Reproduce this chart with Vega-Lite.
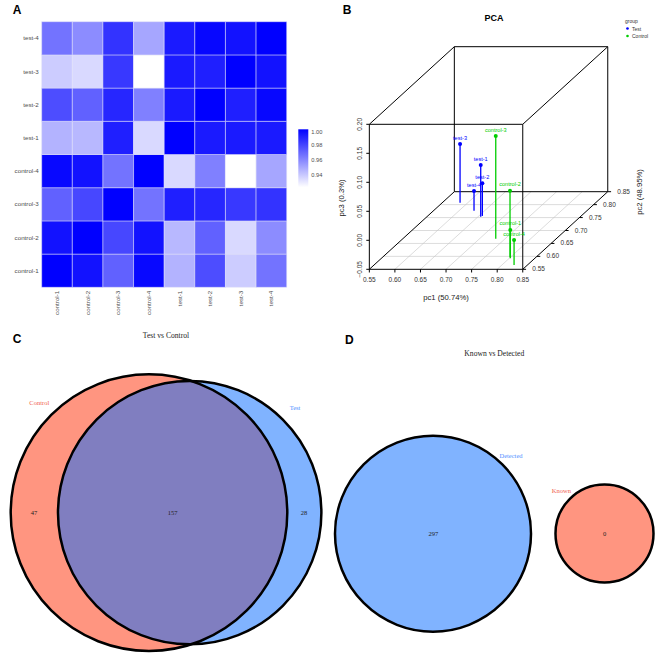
{
  "$schema": "https://vega.github.io/schema/vega-lite/v6.json",
  "padding": 0,
  "spacing": 0,
  "bounds": "full",
  "background": "white",
  "resolve": {
    "scale": {"x": "independent", "y": "independent", "color": "independent", "fill": "independent", "stroke": "independent", "size": "independent"},
    "legend": {"color": "independent", "fill": "independent", "stroke": "independent", "size": "independent"}
  },
  "config": {
    "view": {"stroke": null},
    "font": "Liberation Sans",
    "title": {"anchor": "start", "frame": "group", "fontSize": 12, "fontWeight": "bold", "font": "Liberation Sans", "baseline": "alphabetic", "color": "#000000"}
  },
  "vconcat": [
    {
      "spacing": 0,
      "bounds": "full",
      "resolve": {
        "scale": {"x": "independent", "y": "independent", "color": "independent", "fill": "independent", "stroke": "independent", "size": "independent"},
        "legend": {"color": "independent", "fill": "independent", "stroke": "independent", "size": "independent"}
      },
      "hconcat": [
        {
          "width": 330,
          "height": 320,
          "title": {"text": "A", "offset": -16.7, "dx": 12.7},
          "data": {"values": [
            {"row": "control-1", "control-1": 1.000, "control-2": 0.9947, "control-3": 0.9711, "control-4": 0.9977, "test-1": 0.9468, "test-2": 0.9772, "test-3": 0.9392, "test-4": 0.9658},
            {"row": "control-2", "control-1": 0.9947, "control-2": 1.000, "control-3": 0.9787, "control-4": 0.9947, "test-1": 0.9453, "test-2": 0.9711, "test-3": 0.9354, "test-4": 0.9582},
            {"row": "control-3", "control-1": 0.9711, "control-2": 0.9787, "control-3": 1.000, "control-4": 0.9658, "test-1": 0.9909, "test-2": 0.9886, "test-3": 0.9833, "test-4": 0.9848},
            {"row": "control-4", "control-1": 0.9977, "control-2": 0.9947, "control-3": 0.9658, "control-4": 1.000, "test-1": 0.9354, "test-2": 0.9620, "test-3": 0.9240, "test-4": 0.9506},
            {"row": "test-1", "control-1": 0.9468, "control-2": 0.9453, "control-3": 0.9909, "control-4": 0.9354, "test-1": 1.000, "test-2": 0.9924, "test-3": 0.9924, "test-4": 0.9924},
            {"row": "test-2", "control-1": 0.9772, "control-2": 0.9711, "control-3": 0.9886, "control-4": 0.9620, "test-1": 0.9924, "test-2": 1.000, "test-3": 0.9909, "test-4": 0.9980},
            {"row": "test-3", "control-1": 0.9392, "control-2": 0.9354, "control-3": 0.9833, "control-4": 0.9240, "test-1": 0.9924, "test-2": 0.9909, "test-3": 1.000, "test-4": 0.9947},
            {"row": "test-4", "control-1": 0.9658, "control-2": 0.9582, "control-3": 0.9848, "control-4": 0.9506, "test-1": 0.9924, "test-2": 0.9980, "test-3": 0.9947, "test-4": 1.000}
          ]},
          "transform": [
            {"fold": ["control-1", "control-2", "control-3", "control-4", "test-1", "test-2", "test-3", "test-4"], "as": ["col", "r"]}
          ],
          "mark": {"type": "rect", "stroke": "#E2E2F6", "strokeWidth": 0.5},
          "encoding": {
            "x": {
              "field": "col", "type": "nominal",
              "sort": ["control-1", "control-2", "control-3", "control-4", "test-1", "test-2", "test-3", "test-4"],
              "scale": {"paddingInner": 0, "paddingOuter": 0, "range": [41.7, 286.7]},
              "axis": {"title": null, "labelAngle": -90, "ticks": false, "domain": false, "grid": false, "labelFontSize": 6.2, "labelColor": "#4D4D4D", "labelPadding": 3, "offset": -32.7}
            },
            "y": {
              "field": "row", "type": "nominal",
              "sort": ["test-4", "test-3", "test-2", "test-1", "control-4", "control-3", "control-2", "control-1"],
              "scale": {"paddingInner": 0, "paddingOuter": 0, "range": [21.7, 287.3]},
              "axis": {"title": null, "ticks": false, "domain": false, "grid": false, "labelFontSize": 6.2, "labelColor": "#4D4D4D", "labelPadding": 3.5, "offset": -41.7}
            },
            "color": {
              "field": "r", "type": "quantitative",
              "scale": {"domain": [0.924, 1.0], "range": ["#FFFFFF", "#0000FF"], "interpolate": "rgb", "nice": false, "zero": false},
              "legend": {"orient": "none", "legendX": 298.3, "legendY": 129.3, "direction": "vertical", "gradientLength": 58, "gradientThickness": 10, "title": null, "values": [0.94, 0.96, 0.98, 1.0], "format": ".2f", "labelFontSize": 5.7, "labelColor": "#4D4D4D", "labelOffset": 3, "labelOverlap": false, "gradientStrokeWidth": 0}
            }
          }
        },
        {
          "width": 331,
          "height": 320,
          "title": {"text": "B", "offset": -16.7, "dx": 12.7},
          "layer": [
            {
              "data": {"values": [
                {"x": 0.5777, "y": -0.0277, "x2": 0.8777, "y2": -0.0277},
                {"x": 0.6054, "y": -0.0054, "x2": 0.9054, "y2": -0.0054},
                {"x": 0.6331, "y": 0.0169, "x2": 0.9331, "y2": 0.0169},
                {"x": 0.6608, "y": 0.0392, "x2": 0.9608, "y2": 0.0392},
                {"x": 0.6885, "y": 0.0615, "x2": 0.9885, "y2": 0.0615},
                {"x": 0.60, "y": -0.05, "x2": 0.7662, "y2": 0.0838},
                {"x": 0.65, "y": -0.05, "x2": 0.8162, "y2": 0.0838},
                {"x": 0.70, "y": -0.05, "x2": 0.8662, "y2": 0.0838},
                {"x": 0.75, "y": -0.05, "x2": 0.9162, "y2": 0.0838},
                {"x": 0.80, "y": -0.05, "x2": 0.9662, "y2": 0.0838}
              ]},
              "mark": {"type": "rule", "color": "#C4C4C4", "strokeWidth": 0.6},
              "encoding": {
                "x": {"field": "x", "type": "quantitative", "scale": {"domain": [0.4731, 1.1203], "nice": false, "zero": false}, "axis": null},
                "y": {"field": "y", "type": "quantitative", "scale": {"domain": [-0.1374, 0.4143], "nice": false, "zero": false}, "axis": null},
                "x2": {"field": "x2"},
                "y2": {"field": "y2"}
              }
            },
            {
              "data": {"values": [
                {"x": 0.55, "y": -0.05, "x2": 0.85, "y2": -0.05},
                {"x": 0.85, "y": -0.05, "x2": 0.85, "y2": 0.20},
                {"x": 0.85, "y": 0.20, "x2": 0.55, "y2": 0.20},
                {"x": 0.55, "y": 0.20, "x2": 0.55, "y2": -0.05},
                {"x": 0.7162, "y": 0.0838, "x2": 1.0162, "y2": 0.0838},
                {"x": 1.0162, "y": 0.0838, "x2": 1.0162, "y2": 0.3338},
                {"x": 1.0162, "y": 0.3338, "x2": 0.7162, "y2": 0.3338},
                {"x": 0.7162, "y": 0.3338, "x2": 0.7162, "y2": 0.0838},
                {"x": 0.55, "y": -0.05, "x2": 0.7162, "y2": 0.0838},
                {"x": 0.85, "y": -0.05, "x2": 1.0162, "y2": 0.0838},
                {"x": 0.85, "y": 0.20, "x2": 1.0162, "y2": 0.3338},
                {"x": 0.55, "y": 0.20, "x2": 0.7162, "y2": 0.3338},
                {"x": 0.55, "y": -0.05, "x2": 0.55, "y2": -0.0555},
                {"x": 0.60, "y": -0.05, "x2": 0.60, "y2": -0.0555},
                {"x": 0.65, "y": -0.05, "x2": 0.65, "y2": -0.0555},
                {"x": 0.70, "y": -0.05, "x2": 0.70, "y2": -0.0555},
                {"x": 0.75, "y": -0.05, "x2": 0.75, "y2": -0.0555},
                {"x": 0.80, "y": -0.05, "x2": 0.80, "y2": -0.0555},
                {"x": 0.85, "y": -0.05, "x2": 0.85, "y2": -0.0555},
                {"x": 0.5441, "y": -0.05, "x2": 0.55, "y2": -0.05},
                {"x": 0.5441, "y": 0.00, "x2": 0.55, "y2": 0.00},
                {"x": 0.5441, "y": 0.05, "x2": 0.55, "y2": 0.05},
                {"x": 0.5441, "y": 0.10, "x2": 0.55, "y2": 0.10},
                {"x": 0.5441, "y": 0.15, "x2": 0.55, "y2": 0.15},
                {"x": 0.5441, "y": 0.20, "x2": 0.55, "y2": 0.20},
                {"x": 0.85, "y": -0.05, "x2": 0.8565, "y2": -0.05},
                {"x": 0.8777, "y": -0.0277, "x2": 0.8842, "y2": -0.0277},
                {"x": 0.9054, "y": -0.0054, "x2": 0.9119, "y2": -0.0054},
                {"x": 0.9331, "y": 0.0169, "x2": 0.9396, "y2": 0.0169},
                {"x": 0.9608, "y": 0.0392, "x2": 0.9673, "y2": 0.0392},
                {"x": 0.9885, "y": 0.0615, "x2": 0.995, "y2": 0.0615},
                {"x": 1.0162, "y": 0.0838, "x2": 1.0227, "y2": 0.0838}
              ]},
              "mark": {"type": "rule", "color": "#000000", "strokeWidth": 1},
              "encoding": {
                "x": {"field": "x", "type": "quantitative", "scale": {"domain": [0.4731, 1.1203], "nice": false, "zero": false}, "axis": null},
                "y": {"field": "y", "type": "quantitative", "scale": {"domain": [-0.1374, 0.4143], "nice": false, "zero": false}, "axis": null},
                "x2": {"field": "x2"},
                "y2": {"field": "y2"}
              }
            },
            {
              "data": {"name": "pca", "values": [
                {"sample": "test-1", "group": "Test", "x": 0.7678, "y": 0.1298, "base": 0.0407},
                {"sample": "test-2", "group": "Test", "x": 0.7710, "y": 0.0983, "base": 0.0420},
                {"sample": "test-3", "group": "Test", "x": 0.7274, "y": 0.1660, "base": 0.0648},
                {"sample": "test-4", "group": "Test", "x": 0.7547, "y": 0.0850, "base": 0.0510},
                {"sample": "control-1", "group": "Control", "x": 0.8257, "y": 0.0178, "base": -0.0310},
                {"sample": "control-2", "group": "Control", "x": 0.8251, "y": 0.0855, "base": -0.0293},
                {"sample": "control-3", "group": "Control", "x": 0.7972, "y": 0.1798, "base": 0.0028},
                {"sample": "control-4", "group": "Control", "x": 0.8330, "y": 0.0005, "base": -0.0426}
              ]},
              "layer": [
                {
                  "mark": {"type": "rule", "strokeWidth": 1.3},
                  "encoding": {
                    "x": {"field": "x", "type": "quantitative", "scale": {"domain": [0.4731, 1.1203], "nice": false, "zero": false}, "axis": null},
                    "y": {"field": "y", "type": "quantitative", "scale": {"domain": [-0.1374, 0.4143], "nice": false, "zero": false}, "axis": null},
                    "y2": {"field": "base"},
                    "color": {"field": "group", "type": "nominal", "scale": {"domain": ["Test", "Control"], "range": ["#0000FF", "#00CD00"]},
                      "legend": {"orient": "none", "legendX": 295, "legendY": 19, "title": "group", "titleFontSize": 5, "titleFontWeight": "normal", "titleColor": "#333333", "titlePadding": 2, "labelFontSize": 5, "labelColor": "#333333", "labelOffset": 2, "symbolSize": 7, "symbolType": "circle", "symbolStrokeWidth": 0, "symbolFillColor": "#0000FF", "rowPadding": 1.5}}
                  }
                },
                {
                  "mark": {"type": "point", "filled": true, "size": 16, "opacity": 1, "shape": "circle"},
                  "encoding": {
                    "x": {"field": "x", "type": "quantitative", "scale": {"domain": [0.4731, 1.1203], "nice": false, "zero": false}, "axis": null},
                    "y": {"field": "y", "type": "quantitative", "scale": {"domain": [-0.1374, 0.4143], "nice": false, "zero": false}, "axis": null},
                    "color": {"field": "group", "type": "nominal", "scale": {"domain": ["Test", "Control"], "range": ["#0000FF", "#00CD00"]},
                      "legend": {"orient": "none", "legendX": 295, "legendY": 19, "title": "group", "titleFontSize": 5, "titleFontWeight": "normal", "titleColor": "#333333", "titlePadding": 2, "labelFontSize": 5, "labelColor": "#333333", "labelOffset": 2, "symbolSize": 7, "symbolType": "circle", "symbolStrokeWidth": 0, "rowPadding": 1.5}}
                  }
                },
                {
                  "mark": {"type": "text", "fontSize": 5.6, "dy": -6.5, "align": "center", "baseline": "middle"},
                  "encoding": {
                    "x": {"field": "x", "type": "quantitative", "scale": {"domain": [0.4731, 1.1203], "nice": false, "zero": false}, "axis": null},
                    "y": {"field": "y", "type": "quantitative", "scale": {"domain": [-0.1374, 0.4143], "nice": false, "zero": false}, "axis": null},
                    "text": {"field": "sample"},
                    "color": {"field": "group", "type": "nominal", "scale": {"domain": ["Test", "Control"], "range": ["#0000FF", "#00CD00"]},
                      "legend": {"orient": "none", "legendX": 295, "legendY": 19, "title": "group", "titleFontSize": 5, "titleFontWeight": "normal", "titleColor": "#333333", "titlePadding": 2, "labelFontSize": 5, "labelColor": "#333333", "labelOffset": 2, "symbolSize": 7, "symbolType": "circle", "symbolStrokeWidth": 0, "rowPadding": 1.5}}
                  }
                }
              ]
            },
            {
              "data": {"values": [
                {"label": "0.55", "x": 0.55, "y": -0.0684},
                {"label": "0.60", "x": 0.60, "y": -0.0684},
                {"label": "0.65", "x": 0.65, "y": -0.0684},
                {"label": "0.70", "x": 0.70, "y": -0.0684},
                {"label": "0.75", "x": 0.75, "y": -0.0684},
                {"label": "0.80", "x": 0.80, "y": -0.0684},
                {"label": "0.85", "x": 0.85, "y": -0.0684},
                {"label": "0.55", "x": 0.881, "y": -0.05},
                {"label": "0.60", "x": 0.9087, "y": -0.0277},
                {"label": "0.65", "x": 0.9364, "y": -0.0054},
                {"label": "0.70", "x": 0.9641, "y": 0.0169},
                {"label": "0.75", "x": 0.9918, "y": 0.0392},
                {"label": "0.80", "x": 1.0195, "y": 0.0615},
                {"label": "0.85", "x": 1.0472, "y": 0.0838}
              ]},
              "mark": {"type": "text", "fontSize": 6.5, "color": "#333333", "align": "center", "baseline": "middle"},
              "encoding": {
                "x": {"field": "x", "type": "quantitative", "scale": {"domain": [0.4731, 1.1203], "nice": false, "zero": false}, "axis": null},
                "y": {"field": "y", "type": "quantitative", "scale": {"domain": [-0.1374, 0.4143], "nice": false, "zero": false}, "axis": null},
                "text": {"field": "label"}
              }
            },
            {
              "data": {"values": [
                {"label": "−0.05", "x": 0.5318, "y": -0.05},
                {"label": "0.00", "x": 0.5318, "y": 0.00},
                {"label": "0.05", "x": 0.5318, "y": 0.05},
                {"label": "0.10", "x": 0.5318, "y": 0.10},
                {"label": "0.15", "x": 0.5318, "y": 0.15},
                {"label": "0.20", "x": 0.5318, "y": 0.20}
              ]},
              "mark": {"type": "text", "fontSize": 6.5, "color": "#333333", "align": "center", "baseline": "middle", "angle": 270},
              "encoding": {
                "x": {"field": "x", "type": "quantitative", "scale": {"domain": [0.4731, 1.1203], "nice": false, "zero": false}, "axis": null},
                "y": {"field": "y", "type": "quantitative", "scale": {"domain": [-0.1374, 0.4143], "nice": false, "zero": false}, "axis": null},
                "text": {"field": "label"}
              }
            },
            {
              "data": {"values": [
                {"label": "pc1 (50.74%)", "x": 0.70, "y": -0.0995}
              ]},
              "mark": {"type": "text", "fontSize": 7.7, "color": "#222222", "align": "center", "baseline": "middle"},
              "encoding": {
                "x": {"field": "x", "type": "quantitative", "scale": {"domain": [0.4731, 1.1203], "nice": false, "zero": false}, "axis": null},
                "y": {"field": "y", "type": "quantitative", "scale": {"domain": [-0.1374, 0.4143], "nice": false, "zero": false}, "axis": null},
                "text": {"field": "label"}
              }
            },
            {
              "data": {"values": [
                {"label": "pc3 (0.3%)", "x": 0.496, "y": 0.073},
                {"label": "pc2 (48.95%)", "x": 1.0793, "y": 0.0833}
              ]},
              "mark": {"type": "text", "fontSize": 7.7, "color": "#222222", "align": "center", "baseline": "middle", "angle": 270},
              "encoding": {
                "x": {"field": "x", "type": "quantitative", "scale": {"domain": [0.4731, 1.1203], "nice": false, "zero": false}, "axis": null},
                "y": {"field": "y", "type": "quantitative", "scale": {"domain": [-0.1374, 0.4143], "nice": false, "zero": false}, "axis": null},
                "text": {"field": "label"}
              }
            },
            {
              "data": {"values": [
                {"label": "PCA", "x": 0.7938, "y": 0.3833}
              ]},
              "mark": {"type": "text", "fontSize": 9, "fontWeight": "bold", "color": "#000000", "align": "center", "baseline": "middle"},
              "encoding": {
                "x": {"field": "x", "type": "quantitative", "scale": {"domain": [0.4731, 1.1203], "nice": false, "zero": false}, "axis": null},
                "y": {"field": "y", "type": "quantitative", "scale": {"domain": [-0.1374, 0.4143], "nice": false, "zero": false}, "axis": null},
                "text": {"field": "label"}
              }
            }
          ]
        }
      ]
    },
    {
      "spacing": 0,
      "bounds": "full",
      "resolve": {
        "scale": {"x": "independent", "y": "independent", "color": "independent", "fill": "independent", "stroke": "independent", "size": "independent"},
        "legend": {"color": "independent", "fill": "independent", "stroke": "independent", "size": "independent"}
      },
      "hconcat": [
        {
          "width": 330,
          "height": 338,
          "title": {"text": "C", "offset": -26, "dx": 12.7},
          "layer": [
            {
              "data": {"name": "vennC", "values": [
                {"set": "Control", "count": 204, "x": 0.4515, "y": 0.43},
                {"set": "Test", "count": 185, "x": 0.5748, "y": 0.43}
              ]},
              "layer": [
                {
                  "mark": {"type": "point", "filled": true, "shape": "circle", "opacity": 1, "fillOpacity": 0.5, "strokeWidth": 0},
                  "encoding": {
                    "x": {"field": "x", "type": "quantitative", "scale": {"domain": [0, 1], "nice": false, "zero": false}, "axis": null},
                    "y": {"field": "y", "type": "quantitative", "scale": {"domain": [0, 1], "nice": false, "zero": false}, "axis": null},
                    "size": {"field": "count", "type": "quantitative", "scale": {"domain": [0, 204], "range": [0, 76508], "zero": true}, "legend": null},
                    "fill": {"field": "set", "type": "nominal", "scale": {"domain": ["Control", "Test"], "range": ["#FF2B01", "#0167FF"]}, "legend": null}
                  }
                },
                {
                  "mark": {"type": "point", "filled": false, "shape": "circle", "opacity": 1, "color": "#000000", "strokeWidth": 2.5},
                  "encoding": {
                    "x": {"field": "x", "type": "quantitative", "scale": {"domain": [0, 1], "nice": false, "zero": false}, "axis": null},
                    "y": {"field": "y", "type": "quantitative", "scale": {"domain": [0, 1], "nice": false, "zero": false}, "axis": null},
                    "size": {"field": "count", "type": "quantitative", "scale": {"domain": [0, 204], "range": [0, 76508], "zero": true}, "legend": null}
                  }
                }
              ]
            },
            {
              "data": {"values": [
                {"label": "Test vs Control", "x": 0.503, "y": 0.9527}
              ]},
              "mark": {"type": "text", "font": "Liberation Serif", "fontSize": 7.6, "color": "#222222", "align": "center", "baseline": "middle"},
              "encoding": {
                "x": {"field": "x", "type": "quantitative", "scale": {"domain": [0, 1], "nice": false, "zero": false}, "axis": null},
                "y": {"field": "y", "type": "quantitative", "scale": {"domain": [0, 1], "nice": false, "zero": false}, "axis": null},
                "text": {"field": "label"}
              }
            },
            {
              "data": {"values": [
                {"label": "Control", "set": "Control", "x": 0.119, "y": 0.7535},
                {"label": "Test", "set": "Test", "x": 0.894, "y": 0.7388},
                {"label": "47", "set": "count", "x": 0.103, "y": 0.43},
                {"label": "157", "set": "count", "x": 0.523, "y": 0.43},
                {"label": "28", "set": "count", "x": 0.921, "y": 0.43}
              ]},
              "mark": {"type": "text", "font": "Liberation Serif", "fontSize": 6.5, "align": "center", "baseline": "middle"},
              "encoding": {
                "x": {"field": "x", "type": "quantitative", "scale": {"domain": [0, 1], "nice": false, "zero": false}, "axis": null},
                "y": {"field": "y", "type": "quantitative", "scale": {"domain": [0, 1], "nice": false, "zero": false}, "axis": null},
                "text": {"field": "label"},
                "color": {"field": "set", "type": "nominal", "scale": {"domain": ["Control", "Test", "count"], "range": ["#F0604D", "#4F8FFF", "#222222"]}, "legend": null}
              }
            }
          ]
        },
        {
          "width": 331,
          "height": 338,
          "title": {"text": "D", "offset": -27.3, "dx": 15},
          "layer": [
            {
              "data": {"name": "vennD", "values": [
                {"set": "Detected", "x": 0.3112, "y": 0.3678},
                {"set": "Known", "x": 0.8293, "y": 0.3683}
              ]},
              "layer": [
                {
                  "mark": {"type": "point", "filled": true, "shape": "circle", "opacity": 1, "fillOpacity": 0.5, "strokeWidth": 0},
                  "encoding": {
                    "x": {"field": "x", "type": "quantitative", "scale": {"domain": [0, 1], "nice": false, "zero": false}, "axis": null},
                    "y": {"field": "y", "type": "quantitative", "scale": {"domain": [0, 1], "nice": false, "zero": false}, "axis": null},
                    "size": {"field": "set", "type": "nominal", "scale": {"domain": ["Detected", "Known"], "range": [38416, 9604]}, "legend": null},
                    "fill": {"field": "set", "type": "nominal", "scale": {"domain": ["Detected", "Known"], "range": ["#0167FF", "#FF2B01"]}, "legend": null}
                  }
                },
                {
                  "mark": {"type": "point", "filled": false, "shape": "circle", "opacity": 1, "color": "#000000", "strokeWidth": 2.5},
                  "encoding": {
                    "x": {"field": "x", "type": "quantitative", "scale": {"domain": [0, 1], "nice": false, "zero": false}, "axis": null},
                    "y": {"field": "y", "type": "quantitative", "scale": {"domain": [0, 1], "nice": false, "zero": false}, "axis": null},
                    "size": {"field": "set", "type": "nominal", "scale": {"domain": ["Detected", "Known"], "range": [38416, 9604]}, "legend": null}
                  }
                }
              ]
            },
            {
              "data": {"values": [
                {"label": "Known vs Detected", "x": 0.4964, "y": 0.8994}
              ]},
              "mark": {"type": "text", "font": "Liberation Serif", "fontSize": 7.6, "color": "#222222", "align": "center", "baseline": "middle"},
              "encoding": {
                "x": {"field": "x", "type": "quantitative", "scale": {"domain": [0, 1], "nice": false, "zero": false}, "axis": null},
                "y": {"field": "y", "type": "quantitative", "scale": {"domain": [0, 1], "nice": false, "zero": false}, "axis": null},
                "text": {"field": "label"}
              }
            },
            {
              "data": {"values": [
                {"label": "Detected", "set": "Detected", "x": 0.5468, "y": 0.5985},
                {"label": "Known", "set": "Known", "x": 0.6988, "y": 0.495},
                {"label": "297", "set": "count", "x": 0.3121, "y": 0.3678},
                {"label": "0", "set": "count", "x": 0.83, "y": 0.3678}
              ]},
              "mark": {"type": "text", "font": "Liberation Serif", "fontSize": 6.5, "align": "center", "baseline": "middle"},
              "encoding": {
                "x": {"field": "x", "type": "quantitative", "scale": {"domain": [0, 1], "nice": false, "zero": false}, "axis": null},
                "y": {"field": "y", "type": "quantitative", "scale": {"domain": [0, 1], "nice": false, "zero": false}, "axis": null},
                "text": {"field": "label"},
                "color": {"field": "set", "type": "nominal", "scale": {"domain": ["Known", "Detected", "count"], "range": ["#F0604D", "#4F8FFF", "#222222"]}, "legend": null}
              }
            }
          ]
        }
      ]
    }
  ]
}
